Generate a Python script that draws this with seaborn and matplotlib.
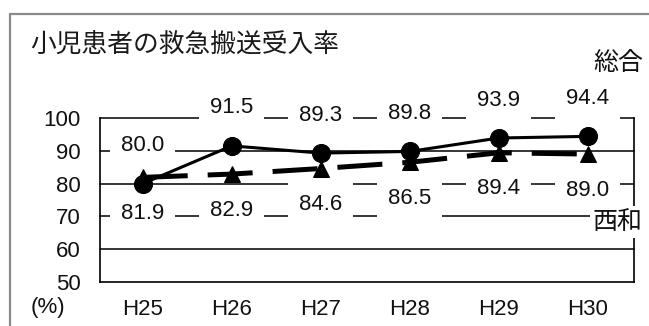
import matplotlib
matplotlib.use("Agg")
import matplotlib.pyplot as plt
from matplotlib import font_manager
from matplotlib.lines import Line2D
import pandas as pd
import seaborn as sns

# --- data -------------------------------------------------------------
years = ["H25", "H26", "H27", "H28", "H29", "H30"]
sogo = [80.0, 91.5, 89.3, 89.8, 93.9, 94.4]     # 総合
seiwa = [81.9, 82.9, 84.6, 86.5, 89.4, 89.0]    # 西和
yticks = [50, 60, 70, 80, 90, 100]
title = "小児患者の救急搬送受入率"
sogo_name = "総合"
seiwa_name = "西和"
unit_label = "(%)"


def pick_font(*names):
    avail = {f.name for f in font_manager.fontManager.ttflist}
    for n in names:
        if n in avail:
            return n
    return "DejaVu Sans"


NUM = pick_font("Liberation Sans Narrow", "DejaVu Sans Condensed", "Liberation Sans")
CJK = "Noto Sans CJK JP"

sns.set_theme(style="white")
plt.rcParams["font.family"] = [NUM, CJK, "DejaVu Sans"]
plt.rcParams["text.color"] = "#111111"

W, H = 649, 326
fig = plt.figure(figsize=(W / 100, H / 100), dpi=100)
fig.patch.set_facecolor("white")
ax = fig.add_axes([100 / W, 44 / H, 534 / W, 164 / H])
ax.set_facecolor("white")

df = pd.DataFrame({
    "year": years * 2,
    "rate": sogo + seiwa,
    "series": [sogo_name] * len(years) + [seiwa_name] * len(years),
})

# horizontal reference lines
for y in yticks[1:]:
    ax.axhline(y, color="black", lw=1.1, zorder=1, clip_on=False)

# 総合: solid line with circles
sns.lineplot(data=df[df["series"] == sogo_name], x="year", y="rate",
             color="black", lw=2.2, marker="o", markersize=13,
             markeredgecolor="black", legend=False, ax=ax, zorder=5)
# 西和: heavy dashed line with triangles
sns.lineplot(data=df[df["series"] == seiwa_name], x="year", y="rate",
             color="black", lw=3.6, marker="^", markersize=12,
             markeredgecolor="black", legend=False, ax=ax, zorder=4,
             dashes=(9, 4))
for ln in ax.lines[-1:]:
    ln.set_dash_capstyle("butt")

# value labels on white boxes that break the reference lines
box = dict(boxstyle="square,pad=0.5", fc="white", ec="none")
for i, v in enumerate(sogo):
    ax.annotate(f"{v:.1f}", xy=(i, v), xytext=(0, 38), textcoords="offset pixels",
                ha="center", va="center", fontsize=16, bbox=box, zorder=3)
for i, v in enumerate(seiwa):
    ax.annotate(f"{v:.1f}", xy=(i, v), xytext=(0, -36), textcoords="offset pixels",
                ha="center", va="center", fontsize=16, bbox=box, zorder=3)

ax.set_xlim(-0.48, 5.52)
ax.set_ylim(50, 100)
ax.set_yticks(yticks)
ax.set_xlabel("")
ax.set_ylabel("")
ax.tick_params(axis="both", length=0, labelsize=16, colors="#111111")
ax.tick_params(axis="y", pad=14)
ax.tick_params(axis="x", pad=12)
ax.spines["top"].set_visible(False)
for s in ("left", "right", "bottom"):
    ax.spines[s].set_color("black")
    ax.spines[s].set_linewidth(1.2)

# series names at the right edge
ax.text(0.97, 1.335, sogo_name, transform=ax.transAxes, ha="center", va="center",
        fontsize=18, family=CJK)
ax.text(0.97, 0.366, seiwa_name, transform=ax.transAxes, ha="center", va="center",
        fontsize=18, family=CJK, zorder=6,
        bbox=dict(boxstyle="square,pad=0.12", fc="white", ec="none"))

fig.text(30 / W, 1 - 45 / H, title, ha="left", va="center", fontsize=18.5,
         family=CJK, color="#1a1a1a")
fig.text(48 / W, 1 - 308 / H, unit_label, ha="center", va="center", fontsize=16)

# chart-area frame
fig.add_artist(Line2D([10 / W, 10 / W], [0, 1 - 14 / H], transform=fig.transFigure,
                      color="#8a8a8a", lw=1.6))
fig.add_artist(Line2D([10 / W, 1], [1 - 14 / H, 1 - 14 / H], transform=fig.transFigure,
                      color="#8a8a8a", lw=1.6))

fig.savefig("out.png", dpi=100)
